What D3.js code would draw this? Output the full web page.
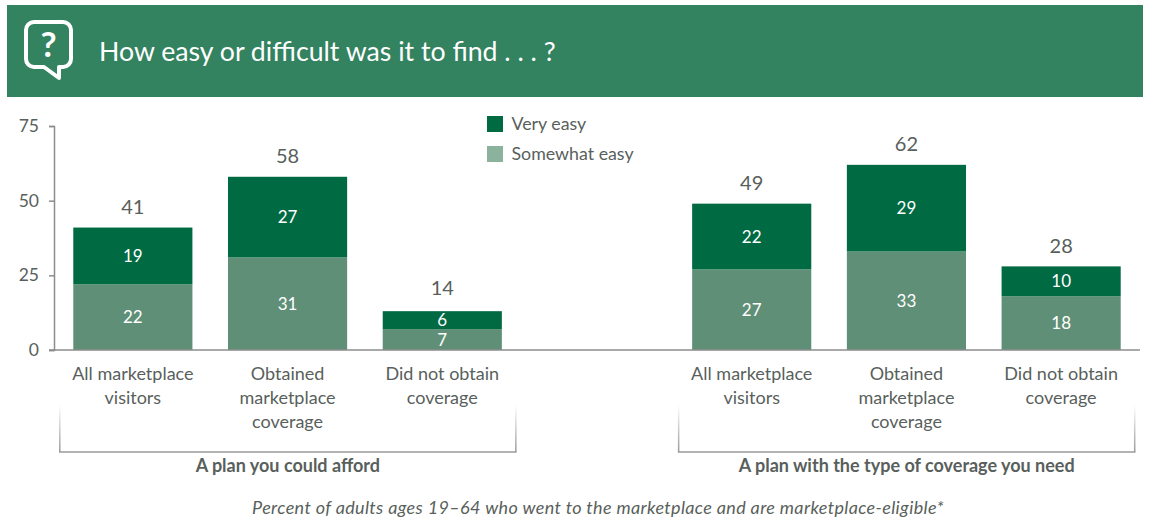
<!DOCTYPE html>
<html>
<head>
<meta charset="utf-8">
<script src="https://cdnjs.cloudflare.com/ajax/libs/d3/7.8.5/d3.min.js"></script>
<style>
html,body{margin:0;padding:0;background:#fff}
svg{display:block}
text{font-family:Lato,"Open Sans",sans-serif}
</style>
</head>
<body>
<svg id="chart" width="1154" height="519"></svg>
<script>
// Survey results: share of adults finding each plan type easy to locate
const slots = ["a1","a2","a3","gap","b1","b2","b3"];
const groupKeys = ["a1","a2","a3","b1","b2","b3"];
const categoryLines = [
  ["All marketplace","visitors"],
  ["Obtained","marketplace","coverage"],
  ["Did not obtain","coverage"],
  ["All marketplace","visitors"],
  ["Obtained","marketplace","coverage"],
  ["Did not obtain","coverage"]
];
const somewhatEasy = [22,31,7,27,33,18];
const veryEasy = [19,27,6,22,29,10];
const totals = [41,58,14,49,62,28];
const yTicks = [0,25,50,75];
const title = "How easy or difficult was it to find . . . ?";
const brackets = [
  {from:"a1",to:"a3",label:"A plan you could afford"},
  {from:"b1",to:"b3",label:"A plan with the type of coverage you need"}
];
const legendItems = [
  {label:"Very easy",color:"#006a43"},
  {label:"Somewhat easy",color:"#8ab29d"}
];
const footnote = "Percent of adults ages 19–64 who went to the marketplace and are marketplace-eligible*";

const textGrey = "#595f5c";
const axisGrey = "#8c8c8c";
const darkGreen = "#006a43";
const midGreen = "#5f8f77";

const svg = d3.select("#chart");

// Header band with speech-bubble icon
svg.append("rect").attr("x",7).attr("y",5).attr("width",1136).attr("height",92).attr("fill","#338260");
const icon = svg.append("g").attr("transform","translate(26,22)");
icon.append("path")
  .attr("d","M8,0H37a8,8 0 0 1 8,8V37a8,8 0 0 1 -8,8H33V56L18,45H8a8,8 0 0 1 -8,-8V8a8,8 0 0 1 8,-8Z")
  .attr("fill","none").attr("stroke","#fff").attr("stroke-width",4).attr("stroke-linejoin","round");
icon.append("text").attr("x",22.5).attr("y",35).attr("text-anchor","middle")
  .attr("fill","#fff").attr("font-size",35).attr("font-weight",700).text("?");
svg.append("text").attr("x",99).attr("y",61).attr("fill","#fff").attr("font-size",26.7).text(title);

// Scales
const x = d3.scaleBand().domain(slots).range([55.5,1138.5]).paddingInner(0.23).paddingOuter(0.115);
const y = d3.scaleLinear().domain([0,75]).range([350,126]);

// Stacked bars
const rows = groupKeys.map((k,i)=>({key:k,somewhat:somewhatEasy[i],very:veryEasy[i],total:totals[i],lines:categoryLines[i]}));
const barHeight = v => y(0)-y(v);
const bars = svg.append("g").selectAll("g").data(rows).join("g")
  .attr("transform",d=>`translate(${x(d.key)},0)`);
bars.append("rect").attr("width",x.bandwidth())
  .attr("y",d=>y(d.somewhat)).attr("height",d=>barHeight(d.somewhat)).attr("fill",midGreen);
bars.append("rect").attr("width",x.bandwidth())
  .attr("y",d=>y(d.somewhat+d.very)).attr("height",d=>barHeight(d.very)).attr("fill",darkGreen);

// Value labels inside the segments and totals above
const cx = x.bandwidth()/2;
bars.append("text").attr("x",cx).attr("y",d=>y(d.somewhat/2)+6)
  .attr("text-anchor","middle").attr("fill","#fff").attr("font-size",17).text(d=>d.somewhat);
bars.append("text").attr("x",cx).attr("y",d=>y(d.somewhat+d.very/2)+6)
  .attr("text-anchor","middle").attr("fill","#fff").attr("font-size",17).text(d=>d.very);
bars.append("text").attr("x",cx).attr("y",d=>y(d.total)-13.5)
  .attr("text-anchor","middle").attr("fill",textGrey).attr("font-size",20).text(d=>d.total);

// Category labels
bars.each(function(d){
  const t = d3.select(this).append("text").attr("text-anchor","middle").attr("fill",textGrey).attr("font-size",18);
  d.lines.forEach((line,i)=>t.append("tspan").attr("x",cx).attr("y",380+i*24).text(line));
});

// Axes
const yAxis = d3.axisLeft(y).tickValues(yTicks).tickSize(5).tickPadding(10);
const yG = svg.append("g").attr("transform","translate(54,0)").call(yAxis);
yG.select(".domain").attr("stroke",axisGrey).attr("stroke-width",1.5);
yG.selectAll(".tick line").attr("stroke",axisGrey).attr("stroke-width",1.5);
yG.selectAll(".tick text").attr("fill",textGrey).attr("font-size",17.5).attr("font-family","Lato");
svg.append("line").attr("x1",49).attr("x2",1140).attr("y1",y(0)).attr("y2",y(0))
  .attr("stroke",axisGrey).attr("stroke-width",1.5);

// Group brackets fading upward, with bold group names
const defs = svg.append("defs");
const grad = defs.append("linearGradient").attr("id","fade").attr("x1",0).attr("x2",0).attr("y1",0).attr("y2",1);
grad.append("stop").attr("offset",0).attr("stop-color","#9a9a9a").attr("stop-opacity",0);
grad.append("stop").attr("offset",1).attr("stop-color","#9a9a9a").attr("stop-opacity",1);
brackets.forEach(b=>{
  const x0 = x(b.from)-13.5, x1 = x(b.to)+x.bandwidth()+14;
  [x0,x1].forEach(px=>svg.append("rect").attr("x",px-0.75).attr("y",405).attr("width",1.5).attr("height",47).attr("fill","url(#fade)"));
  svg.append("line").attr("x1",x0-0.75).attr("x2",x1+0.75).attr("y1",452).attr("y2",452).attr("stroke","#9a9a9a").attr("stroke-width",1.5);
  svg.append("text").attr("x",(x0+x1)/2).attr("y",472).attr("text-anchor","middle")
    .attr("fill",textGrey).attr("font-size",18).attr("font-weight",700).text(b.label);
});

// Legend
const legend = svg.append("g").selectAll("g").data(legendItems).join("g")
  .attr("transform",(d,i)=>`translate(487,${116+i*30})`);
legend.append("rect").attr("width",16).attr("height",16).attr("fill",d=>d.color);
legend.append("text").attr("x",24.5).attr("y",14).attr("fill",textGrey).attr("font-size",17.8).text(d=>d.label);

// Footnote
svg.append("text").attr("x",598).attr("y",514).attr("text-anchor","middle")
  .attr("fill",textGrey).attr("font-size",18).attr("letter-spacing",0.35).attr("font-style","italic").text(footnote);
</script>
</body>
</html>
